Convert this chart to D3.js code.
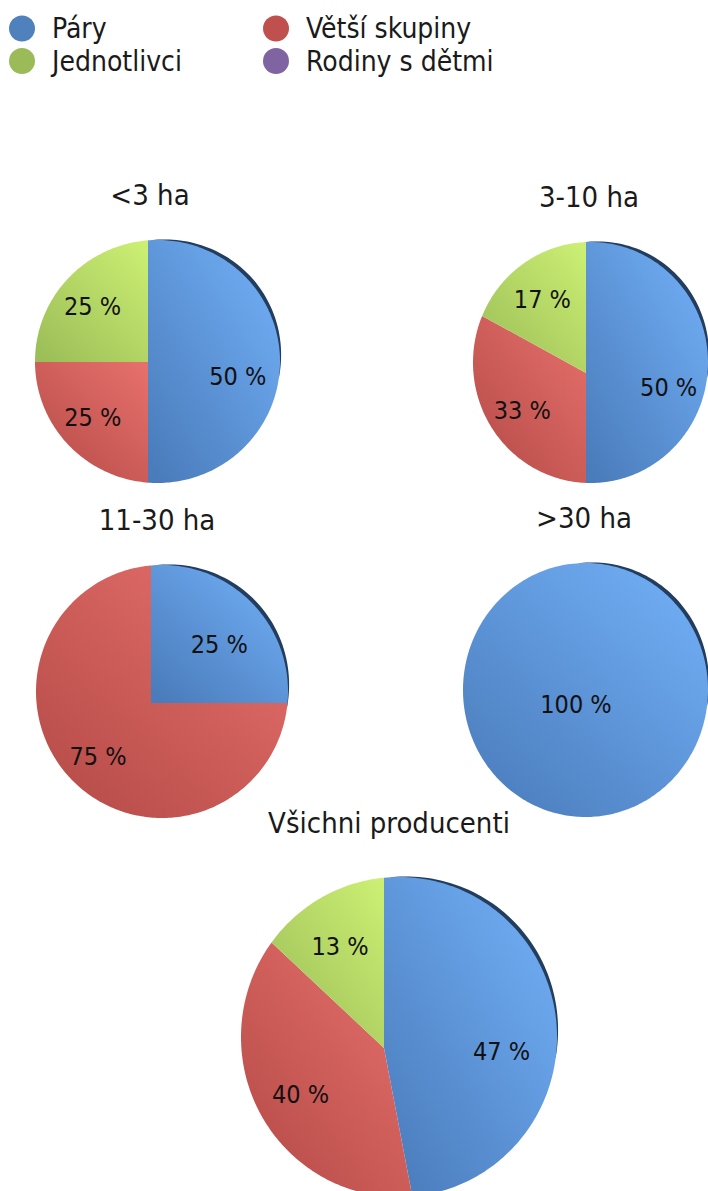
<!DOCTYPE html>
<html>
<head>
<meta charset="utf-8">
<script src="https://cdn.jsdelivr.net/npm/d3@7"></script>
<style>
  body { margin: 0; background: #fff; }
  svg { display: block; font-family: 'DejaVu Sans Condensed', 'Liberation Sans', sans-serif; }
</style>
</head>
<body>
<div id="chart"></div>
<script>
const series = ['Páry', 'Větší skupiny', 'Jednotlivci', 'Rodiny s dětmi'];
const groups = ['<3 ha', '3-10 ha', '11-30 ha', '>30 ha', 'Všichni producenti'];
const pary = [50, 50, 25, 100, 47];
const vetsiSkupiny = [25, 33, 75, 0, 40];
const jednotlivci = [25, 17, 0, 0, 13];
const rodinySDetmi = [0, 0, 0, 0, 0];

const seriesValues = [pary, vetsiSkupiny, jednotlivci, rodinySDetmi];

const width = 708, height = 1191;

// p = point where slices meet, c/rx/ry = outline of the tilted pie
const layout = [
  { p: [148, 362], c: [157.5, 361.5], rx: 122.5, ry: 121.5, title: [150, 205] },
  { p: [586, 373], c: [590.5, 362.5], rx: 117.5, ry: 120.5, title: [589, 207] },
  { p: [151, 703], c: [162, 691.5], rx: 126, ry: 126.5, title: [157, 530] },
  { p: [576, 704], c: [585.5, 690], rx: 122.5, ry: 127, title: [584, 528] },
  { p: [384, 1048], c: [399, 1037], rx: 158, ry: 160, title: [389, 833] }
];

const colors = d3.scaleOrdinal().domain(series).range(['#4f81bd', '#c0504d', '#9bbb59', '#8064a2']);
const light = d3.scaleOrdinal().domain(series).range(['#74b2fa', '#e8716c', '#cdf074', '#a58bc8']);
const dark = d3.scaleOrdinal().domain(series).range(['#4a7cbb', '#b54b48', '#9cbe58', '#73589a']);

const svg = d3.select('#chart')
  .append('svg')
  .attr('width', width)
  .attr('height', height);

const defs = svg.append('defs');
series.forEach((s, i) => {
  const grad = defs.append('linearGradient')
    .attr('id', `grad-${i}`)
    .attr('x1', 1).attr('y1', 0)
    .attr('x2', 0.1).attr('y2', 1);
  grad.append('stop').attr('offset', 0).attr('stop-color', light(s));
  grad.append('stop').attr('offset', 1).attr('stop-color', dark(s));
});

// point on the outline hit by the ray from p at pie angle a
function rim(g, a) {
  const sx = Math.sin(a), sy = -Math.cos(a);
  const ox = (g.p[0] - g.c[0]) / g.rx, oy = (g.p[1] - g.c[1]) / g.ry;
  const dx = sx / g.rx, dy = sy / g.ry;
  const A = dx * dx + dy * dy, B = 2 * (ox * dx + oy * dy), C = ox * ox + oy * oy - 1;
  const t = (-B + Math.sqrt(B * B - 4 * A * C)) / (2 * A);
  return [g.p[0] + t * sx, g.p[1] + t * sy];
}

const line = d3.line();
const pie = d3.pie().sort(null).value(d => d.value);

function isFull(d) {
  return d.endAngle - d.startAngle > 2 * Math.PI - 1e-6;
}

function slicePath(g, d) {
  const n = Math.max(2, Math.ceil((d.endAngle - d.startAngle) / 0.02));
  const pts = d3.range(n + 1).map(i => rim(g, d.startAngle + (d.endAngle - d.startAngle) * i / n));
  return line(isFull(d) ? pts : [g.p, ...pts]) + 'Z';
}

// dark rim on the upper right, the side of the 3d pie
function edgePath(g) {
  const a0 = -0.05, a1 = 1.7;
  const phis = d3.range(61).map(i => a0 + (a1 - a0) * i / 60);
  const outer = phis.map(f => {
    const w = 4 * Math.sin(Math.PI * (f - a0) / (a1 - a0));
    return [g.c[0] + (g.rx + w) * Math.sin(f), g.c[1] - (g.ry + w) * Math.cos(f)];
  });
  const inner = phis.slice().reverse().map(f => [g.c[0] + (g.rx - 2) * Math.sin(f), g.c[1] - (g.ry - 2) * Math.cos(f)]);
  return line(outer.concat(inner)) + 'Z';
}

groups.forEach((name, gi) => {
  const g = layout[gi];
  const data = series.map((s, si) => ({ key: s, index: si, value: seriesValues[si][gi] }));
  const arcs = pie(data).filter(d => d.value > 0);

  const pg = svg.append('g').attr('class', 'pie');

  pg.append('text')
    .attr('x', g.title[0])
    .attr('y', g.title[1])
    .attr('text-anchor', 'middle')
    .attr('font-size', 29)
    .attr('fill', '#1a1a1a')
    .text(name);

  pg.append('path')
    .attr('d', edgePath(g))
    .attr('fill', '#233d5e');

  pg.selectAll('.slice')
    .data(arcs)
    .enter().append('path')
    .attr('class', 'slice')
    .attr('d', d => slicePath(g, d))
    .attr('fill', d => `url(#grad-${d.data.index})`);

  pg.selectAll('.label')
    .data(arcs)
    .enter().append('text')
    .attr('class', 'label')
    .attr('text-anchor', 'middle')
    .attr('dy', '0.35em')
    .attr('font-size', 25)
    .attr('fill', '#111')
    .attr('transform', d => {
      if (isFull(d)) return `translate(${g.p})`;
      const mid = (d.startAngle + d.endAngle) / 2;
      const e = rim(g, mid);
      const k = 0.68;
      // right side sits nearer the viewer, labels drop a little
      const drop = 14 * Math.max(0, Math.sin(mid));
      return `translate(${g.p[0] + k * (e[0] - g.p[0])},${g.p[1] + k * (e[1] - g.p[1]) + drop})`;
    })
    .text(d => `${d.value} %`);
});

// legend, two columns
const legend = svg.append('g')
  .selectAll('g')
  .data(series)
  .enter().append('g')
  .attr('transform', (d, i) => `translate(${i % 2 === 0 ? 22 : 276},${28.5 + Math.floor(i / 2) * 32.5})`);

legend.append('circle')
  .attr('r', 13)
  .attr('fill', d => colors(d));

legend.append('text')
  .attr('x', 30)
  .attr('dy', '0.35em')
  .attr('font-size', 28)
  .attr('fill', '#1a1a1a')
  .text(d => d);
</script>
</body>
</html>
